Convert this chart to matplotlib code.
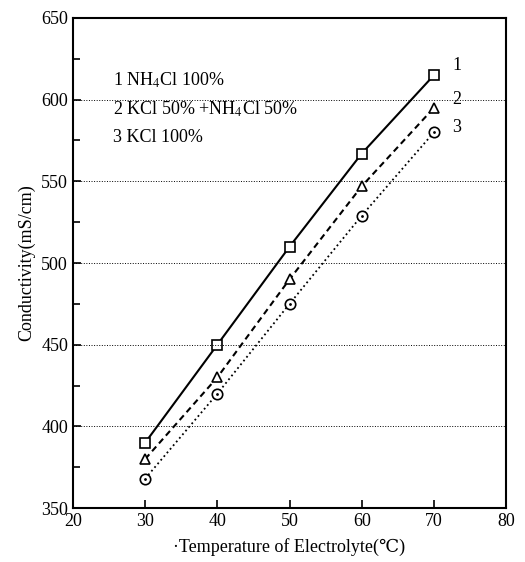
import numpy as np
import matplotlib
matplotlib.use("Agg")
from matplotlib import pyplot as plt

plt.rcParams['font.family'] = ['Liberation Serif', 'DejaVu Serif', 'Noto Sans CJK SC']
plt.rcParams['mathtext.fontset'] = 'stix'

# data
temp = [30, 40, 50, 60, 70]
nh4cl = [390, 450, 510, 567, 615]
mix = [380, 430, 490, 547, 595]
kcl = [368, 420, 475, 529, 580]
names = ['1 NH$_4$Cl 100%', '2 KCl 50% +NH$_4$Cl 50%', '3 KCl 100%']

fig = plt.figure(figsize=(5.25, 5.62), dpi=100)
ax = fig.add_axes([0.139, 0.096, 0.825, 0.872])

ax.plot(temp, nh4cl, 'k-', lw=1.5, marker='s', ms=7.5, mfc='white', mec='k', mew=1.2)
ax.plot(temp, mix, 'k--', lw=1.5, dashes=(3, 2), marker='^', ms=7.5, mfc='white', mec='k', mew=1.2)
ax.plot(temp, kcl, 'k:', lw=1.3, marker='o', ms=7.5, mfc='white', mec='k', mew=1.2)
ax.plot(temp, kcl, 'k.', ms=2)

lab_y = [621, 600, 583]
for i in range(3):
    ax.text(72.5, lab_y[i], str(i + 1), fontsize=13, va='center')

leg_y = [612, 594, 577]
for i, n in enumerate(names):
    ax.text(25.5, leg_y[i], n, fontsize=13, va='center')

for g in [400, 450, 500, 550, 600]:
    ax.axhline(g, color='k', ls=':', lw=0.7)

ax.set_xlim(20, 80)
ax.set_ylim(350, 650)
ax.set_xticks([20, 30, 40, 50, 60, 70, 80])
ax.set_yticks(np.arange(350, 651, 50))
ax.set_yticks(np.arange(375, 650, 50), minor=True)
ax.tick_params(direction='in', labelsize=13, length=6, width=1.2)
ax.tick_params(which='minor', direction='in', length=5, width=1.2)
for sp in ax.spines.values():
    sp.set_linewidth(1.5)

ax.set_xlabel('·Temperature of Electrolyte(℃)', fontsize=13, labelpad=6)
ax.set_ylabel('Conductivity(mS/cm)', fontsize=13)

fig.savefig('out.png', dpi=100)
